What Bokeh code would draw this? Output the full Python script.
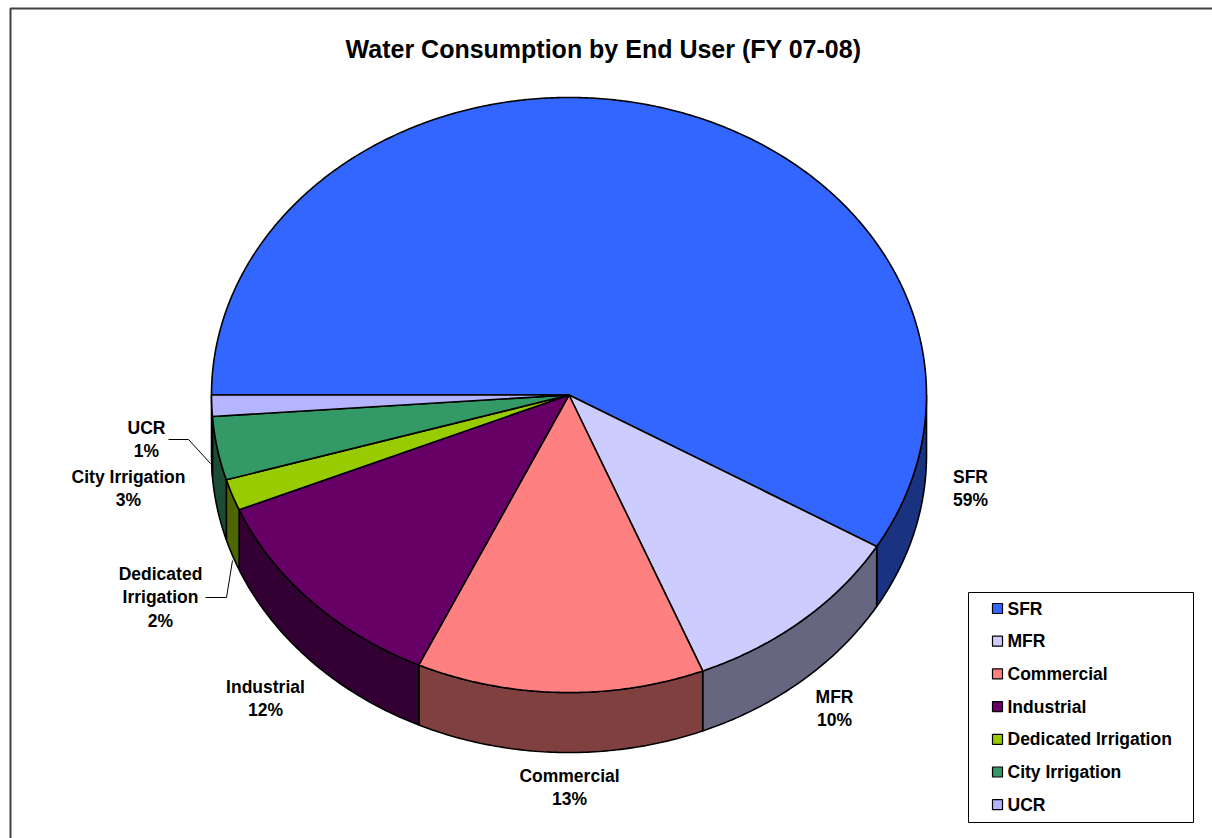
import numpy as np
from bokeh.plotting import figure
from bokeh.models import Range1d
from bokeh.core.properties import value
from bokeh.embed import file_html
from bokeh.resources import INLINE

# ---------------- data ----------------
categories = ["SFR", "MFR", "Commercial", "Industrial",
              "Dedicated Irrigation", "City Irrigation", "UCR"]
label_names = ["SFR", "MFR", "Commercial", "Industrial",
               "Dedicated\nIrrigation", "City Irrigation", "UCR"]
values = [58.5, 10.4, 13.0, 11.8, 1.7, 3.45, 1.15]
top_colors = ["#3366FF", "#CCCCFF", "#FF8080", "#660066",
              "#99CC00", "#339966", "#B4B4FF"]
side_colors = ["#1A3380", "#666680", "#804040", "#330033",
               "#4D6600", "#1A4D33", "#5A5A80"]
title = "Water Consumption by End User (FY 07-08)"

# ---------------- layout ----------------
W, H = 1212, 838
CX, CY, RX, RY, DEPTH = 568.5, 394.5, 357.5, 297.5, 60.0
START_DEG = 180.0            # first slice starts at 9 o'clock, goes clockwise
FONT = "Liberation Sans"
LABEL_SIZE = "17.5px"
label_pos = [(970, 488), (834, 708), (569, 787), (265, 698),
             (160, 597), (128, 488), (146, 439)]
leaders = [([205, 226, 232], [597, 597, 560]),
           ([168, 188, 210], [439, 439, 463])]
LEG_L, LEG_R, LEG_T, LEG_B = 968, 1193, 592, 822
LEG_Y0, LEG_DY = 608, 32.7

p = figure(width=W, height=H, x_range=Range1d(0, W), y_range=Range1d(H, 0),
           output_backend="svg", toolbar_location=None, min_border=0)
p.axis.visible = False
p.grid.visible = False
p.outline_line_color = None
p.background_fill_color = "white"
p.border_fill_color = "white"

total = float(sum(values))
bounds = [START_DEG]
for v in values:
    bounds.append(bounds[-1] - v / total * 360.0)


def pt(theta_deg, dy=0.0):
    t = np.radians(theta_deg)
    return CX + RX * np.cos(t), CY - RY * np.sin(t) + dy


# side faces (front half only: theta in [-180, 0])
sx, sy, sc = [], [], []
for i in range(len(values)):
    a, b = bounds[i], bounds[i + 1]
    hi, lo = min(a, 0.0), max(b, -180.0)
    if hi <= lo:
        continue
    th = np.linspace(hi, lo, 80)
    x1, y1 = pt(th)
    x2, y2 = pt(th[::-1], DEPTH)
    sx.append(list(np.concatenate([x1, x2])))
    sy.append(list(np.concatenate([y1, y2])))
    sc.append(side_colors[i])
p.patches(sx, sy, fill_color=sc, line_color="black", line_width=1.6)

# top faces
tx, ty = [], []
for i in range(len(values)):
    a, b = bounds[i], bounds[i + 1]
    n = max(int(abs(a - b) * 2), 8)
    th = np.linspace(a, b, n)
    x, y = pt(th)
    tx.append([CX] + list(x))
    ty.append([CY] + list(y))
p.patches(tx, ty, fill_color=top_colors, line_color="black", line_width=1.6)

# leader lines
for lx, ly in leaders:
    p.line(lx, ly, line_color="black", line_width=1)

# data labels
pcts = [int(v / total * 100 + 0.5 + 1e-9) for v in values]
p.text(x=[q[0] for q in label_pos], y=[q[1] for q in label_pos],
       text=[f"{n}\n{pc}%" for n, pc in zip(label_names, pcts)],
       text_align="center", text_baseline="middle",
       text_font=value(FONT), text_font_style="bold",
       text_font_size=LABEL_SIZE, text_line_height=1.17, text_color="black")

# title
p.text(x=[603], y=[48], text=[title], text_align="center",
       text_baseline="middle", text_font=value(FONT),
       text_font_style="bold", text_font_size="25px", text_color="black")

# legend
p.quad(left=[LEG_L], right=[LEG_R], top=[LEG_T], bottom=[LEG_B],
       fill_color="white", line_color="black", line_width=1)
ly = [LEG_Y0 + i * LEG_DY for i in range(len(categories))]
p.rect(x=[997] * len(categories), y=ly, width=10, height=10,
       fill_color=top_colors, line_color="black", line_width=1.2)
p.text(x=[1007] * len(categories), y=ly, text=categories,
       text_align="left", text_baseline="middle", text_font=value(FONT),
       text_font_style="bold", text_font_size=LABEL_SIZE, text_color="black")

# chart area border
p.line([10, 10, W + 5], [H + 5, 8, 8], line_color="#404040", line_width=2)

open("out.html", "w").write(file_html(p, INLINE))
